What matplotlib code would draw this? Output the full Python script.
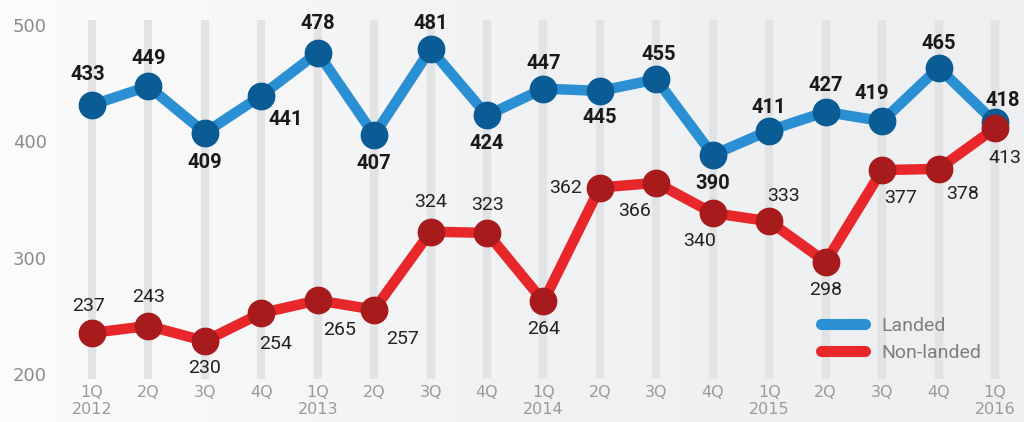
import numpy as np
import matplotlib.pyplot as plt
from matplotlib.colors import LinearSegmentedColormap

# quarterly transaction counts
quarters = ["1Q", "2Q", "3Q", "4Q", "1Q", "2Q", "3Q", "4Q", "1Q",
            "2Q", "3Q", "4Q", "1Q", "2Q", "3Q", "4Q", "1Q"]
years = ["2012", "", "", "", "2013", "", "", "", "2014",
         "", "", "", "2015", "", "", "", "2016"]
landed = [433, 449, 409, 441, 478, 407, 481, 424, 447,
          445, 455, 390, 411, 427, 419, 465, 418]
non_landed = [237, 243, 230, 254, 265, 257, 324, 323, 264,
              362, 366, 340, 333, 298, 377, 378, 413]
yticks = [200, 300, 400, 500]

# value label nudges in pixels (dx, dy), one per point
landed_off = [(-4, 30), (0, 28), (0, -30), (24, -24), (0, 29), (0, -28), (0, 26), (0, -28),
              (0, 25), (0, -27), (2, 25), (0, -29), (0, 23), (0, 26), (-10, 28), (0, 24),
              (8, 22)]
non_landed_off = [(-3, 27), (0, 29), (0, -27), (14, -31), (22, -30), (28, -29), (0, 30),
                  (0, 28), (0, -28), (-34, 0), (-22, -28), (-13, -28), (14, 25), (0, -28),
                  (18, -28), (24, -25), (10, -30)]

blue_line, blue_dot = "#2b8fd3", "#0b5b95"
red_line, red_dot = "#e8272b", "#a81b1d"

x0, x1 = -1.63, 16.514
y0, y1 = 160.4, 523.2

fig = plt.figure(figsize=(10.24, 4.22), dpi=100)
ax = fig.add_axes([0, 0, 1, 1])
x = np.arange(len(landed))
ax.set_xlim(x0, x1)
ax.set_ylim(y0, y1)
ax.axis("off")

# soft background, whiter on the left
grad = np.linspace(0, 1, 256)[None, :]
bg = LinearSegmentedColormap.from_list("bg", ["#fcfcfc", "#f1f2f3", "#edeff1"])
ax.imshow(grad, cmap=bg, extent=[x0, x1, y0, y1], aspect="auto", zorder=0)

# faint vertical column for each quarter
for xi in x:
    ax.plot([xi, xi], [197, 506], color="#e2e3e5", lw=6, solid_capstyle="butt", zorder=1)

for yt in yticks:
    ax.text(-1.40, yt, str(yt), fontsize=13, color="#8c8c8c", va="center", ha="left")

for xi, q, yr in zip(x, quarters, years):
    ax.text(xi, 185.6, q, fontsize=11.5, color="#9a9a9a", ha="center", va="center")
    if yr:
        ax.text(xi, 171, yr, fontsize=11.5, color="#9a9a9a", ha="center", va="center")

ax.plot(x, landed, color=blue_line, lw=7.5, zorder=3, label="Landed",
        solid_capstyle="round")
ax.plot(x, landed, "o", color=blue_dot, ms=19, zorder=4)
ax.plot(x, non_landed, color=red_line, lw=7.5, zorder=3, label="Non-landed",
        solid_capstyle="round")
ax.plot(x, non_landed, "o", color=red_dot, ms=19, zorder=4)

px = 0.72  # pixels -> points at 100 dpi
for xi, v, (dx, dy) in zip(x, landed, landed_off):
    ax.annotate(str(v), (xi, v), xytext=(dx * px, dy * px), textcoords="offset points",
                ha="center", va="center", fontsize=14.5, fontweight="bold",
                family="Roboto", color="#1a1a1a", zorder=5)
for xi, v, (dx, dy) in zip(x, non_landed, non_landed_off):
    ax.annotate(str(v), (xi, v), xytext=(dx * px, dy * px), textcoords="offset points",
                ha="center", va="center", fontsize=14, family="Roboto",
                color="#222222", zorder=5)

leg = ax.legend(loc="lower right", bbox_to_anchor=(0.975, 0.1), frameon=False,
                prop={"family": "Roboto", "size": 14}, handlelength=2.3,
                labelcolor="#7e7e7e")
for h in leg.get_lines():
    h.set_linewidth(8)
    h.set_solid_capstyle("round")

fig.savefig("out.png", dpi=100)
